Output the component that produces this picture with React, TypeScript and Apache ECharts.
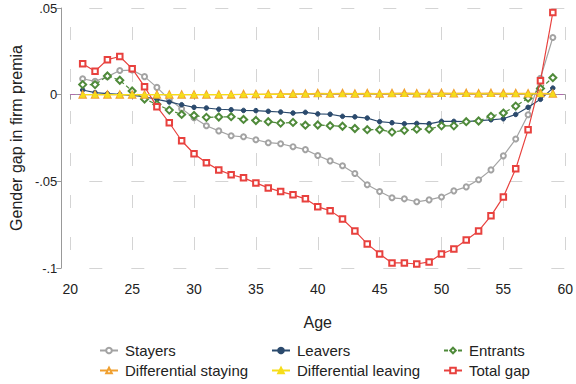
import React, { useEffect, useRef } from "react";
import * as echarts from "echarts";

const ages = Array.from({ length: 39 }, (_, i) => 21 + i);

const stayers = [
  0.0092, 0.0077, 0.0104, 0.0139, 0.0142, 0.0104, 0.0042, -0.0027, -0.0081, -0.0133,
  -0.0179, -0.0209, -0.0237, -0.0243, -0.026, -0.0277, -0.0283, -0.03, -0.0317, -0.0351,
  -0.0382, -0.041, -0.0455, -0.052, -0.0559, -0.0595, -0.0601, -0.0618, -0.0607, -0.059,
  -0.0555, -0.0532, -0.0491, -0.0434, -0.0353, -0.0256, -0.0116, 0.0095, 0.033,
];
const leavers = [
  0.0027, 0.0012, 0.0006, 0.0002, -0.0004, -0.0012, -0.0027, -0.0042, -0.0058, -0.0073,
  -0.0077, -0.0084, -0.0087, -0.0091, -0.0092, -0.0096, -0.01, -0.0106, -0.0102, -0.0111,
  -0.0113, -0.0125, -0.0128, -0.0135, -0.0156, -0.0162, -0.0168, -0.0166, -0.0168, -0.0154,
  -0.0154, -0.0156, -0.015, -0.0145, -0.0139, -0.0114, -0.0073, -0.0027, 0.0038,
];
const entrants = [
  0.0058, 0.0058, 0.0108, 0.0083, 0.0021, -0.0025, -0.0056, -0.0089, -0.0114, -0.012,
  -0.0131, -0.0129, -0.0127, -0.0143, -0.0149, -0.0156, -0.0164, -0.016, -0.0176, -0.0175,
  -0.0179, -0.0182, -0.0195, -0.0202, -0.0202, -0.0216, -0.0206, -0.0199, -0.0199, -0.018,
  -0.018, -0.0156, -0.0152, -0.0125, -0.0106, -0.0066, -0.002, 0.0036, 0.0098,
];
const diffStaying = [
  0, 0, 0, 0, 0, 0, 0, 0, 0, 0,
  0, 0, 0, 0.0002, 0.0002, 0.0003, 0.0004, 0.0004, 0.0005, 0.0008,
  0.0006, 0.0008, 0.0006, 0.0008, 0.0006, 0.0008, 0.0009, 0.0007, 0.0007, 0.0009,
  0.0007, 0.0009, 0.0007, 0.0009, 0.0008, 0.0008, 0.0007, 0.0008, 0.0006,
];
const diffLeaving = [
  0, 0, 0, 0, 0, 0, 0, 0, 0, 0,
  0, 0, 0.0001, 0.0001, 0.0002, 0.0002, 0.0002, 0.0003, 0.0003, 0.0004,
  0.0004, 0.0004, 0.0004, 0.0005, 0.0005, 0.0005, 0.0005, 0.0005, 0.0005, 0.0005,
  0.0005, 0.0005, 0.0005, 0.0005, 0.0005, 0.0005, 0.0005, 0.0005, 0.0005,
];
const totalGap = [
  0.0179, 0.0135, 0.0202, 0.022, 0.015, 0.0046, -0.0069, -0.0162, -0.0266, -0.0341,
  -0.0393, -0.0434, -0.0462, -0.048, -0.0509, -0.0538, -0.0559, -0.0578, -0.0601, -0.0647,
  -0.0669, -0.0717, -0.0786, -0.0861, -0.0919, -0.0971, -0.0971, -0.0977, -0.0965, -0.0919,
  -0.089, -0.0838, -0.0786, -0.0699, -0.059, -0.0428, -0.0202, 0.0081, 0.0474,
];

const FONT = "Liberation Sans, Arial, Helvetica, sans-serif";

const fmtY = (v: number) => {
  const r = Math.round(v * 100) / 100;
  if (r === 0) return "0";
  return (r < 0 ? "-" : "") + String(Math.abs(r)).replace(/^0/, "");
};

const pts = (vals: number[]) => ages.map((a, i) => [a, vals[i]]);

export default function App() {
  const ref = useRef<HTMLDivElement>(null);
  useEffect(() => {
    if (!ref.current) return;
    const chart = echarts.init(ref.current, null, { renderer: "svg" });
    const grid = { lineStyle: { color: "#d4d4d4", width: 1, type: [13, 29] as any, dashOffset: -19 } };
    const mk = (
      name: string,
      vals: number[],
      color: string,
      symbol: string,
      size: number,
      extra: any = {}
    ) => ({
      name,
      type: "line",
      data: pts(vals),
      symbol,
      symbolSize: size,
      showSymbol: true,
      lineStyle: { color, width: 1.2, ...(extra.lineStyle || {}) },
      itemStyle: { color, borderColor: color, borderWidth: 1, ...(extra.itemStyle || {}) },
      z: extra.z ?? 2,
      ...(extra.markLine ? { markLine: extra.markLine } : {}),
    });
    const lg = (name: string, left: number, top: number) => ({
      orient: "horizontal",
      left,
      top,
      itemGap: 0,
      itemWidth: 18,
      itemHeight: 7,
      padding: 0,
      data: [name],
      textStyle: { fontFamily: FONT, fontSize: 15, color: "#222", padding: [0, 0, 0, 2] },
    });
    chart.setOption({
      animation: false,
      backgroundColor: "#fff",
      grid: { left: 67, right: 9, top: 8, bottom: 116, containLabel: false },
      legend: [
        lg("Stayers", 99, 343),
        lg("Differential staying", 99, 363),
        lg("Leavers", 271, 343),
        lg("Differential leaving", 271, 363),
        lg("Entrants", 443, 343),
        lg("Total gap", 443, 363),
      ],
      xAxis: {
        type: "value",
        min: 20,
        max: 60,
        interval: 5,
        offset: 8,
        name: "Age",
        nameLocation: "middle",
        nameGap: 38,
        nameTextStyle: { fontFamily: FONT, fontSize: 16, color: "#222" },
        axisLine: { show: true, lineStyle: { color: "#999", width: 1 } },
        axisTick: { show: true, length: 5, lineStyle: { color: "#999" } },
        axisLabel: { fontFamily: FONT, fontSize: 14, color: "#222", margin: 6 },
        splitLine: { show: true, ...grid },
      },
      yAxis: {
        type: "value",
        min: -0.1,
        max: 0.05,
        interval: 0.05,
        offset: 9,
        name: "Gender gap in firm premia",
        nameLocation: "middle",
        nameGap: 36,
        nameTextStyle: { fontFamily: FONT, fontSize: 16, color: "#222" },
        axisLine: { show: true, lineStyle: { color: "#999", width: 1 } },
        axisTick: { show: true, length: 5, lineStyle: { color: "#999" } },
        axisLabel: { fontFamily: FONT, fontSize: 13, color: "#222", margin: 4, formatter: fmtY },
        splitLine: { show: true, ...grid },
      },
      series: [
        mk("Stayers", stayers, "#a3a3a3", "emptyCircle", 5, {
          markLine: {
            silent: true,
            symbol: "none",
            label: { show: false },
            lineStyle: { color: "#b06aae", type: [5, 3], width: 1 },
            data: [{ yAxis: 0 }],
          },
        }),
        mk("Leavers", leavers, "#2b4a6d", "circle", 4.5, { z: 3 }),
        mk("Entrants", entrants, "#4f8a3a", "emptyDiamond", 7, {
          lineStyle: { type: [4, 3] },
          z: 3,
        }),
        mk("Differential staying", diffStaying, "#f0a030", "emptyTriangle", 6, { z: 4 }),
        mk("Differential leaving", diffLeaving, "#f6dd1a", "triangle", 5, { z: 5 }),
        mk("Total gap", totalGap, "#e8413e", "emptyRect", 5.5, { z: 4 }),
      ],
    });
    return () => chart.dispose();
  }, []);
  return (
    <div
      ref={ref}
      style={{ position: "absolute", left: 0, top: 0, width: 576, height: 384 }}
    />
  );
}
